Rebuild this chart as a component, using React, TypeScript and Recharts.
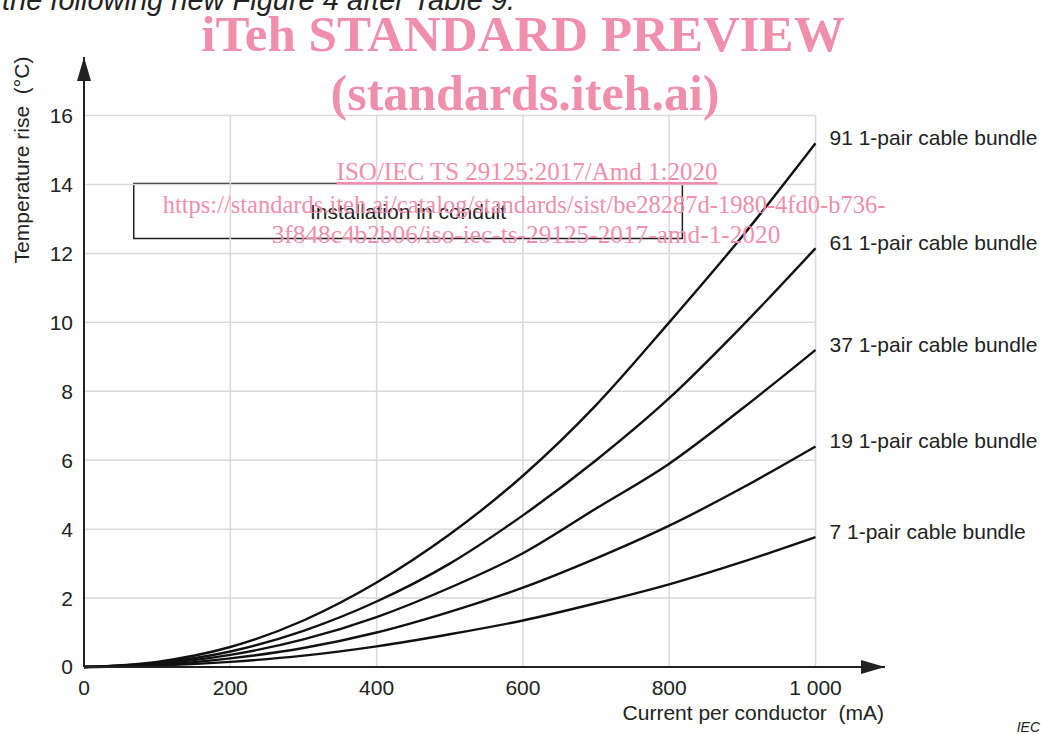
import React from 'react';
import { LineChart, Line, XAxis, YAxis, ReferenceLine, ReferenceArea, LabelList } from 'recharts';

// current per conductor (mA)
const currents = [0, 100, 200, 300, 400, 500, 600, 700, 800, 900, 1000];

// temperature rise (°C) per bundle size
const bundle91 = [0, 0.15, 0.58, 1.35, 2.45, 3.85, 5.55, 7.6, 10.0, 12.5, 15.2];
const bundle61 = [0, 0.12, 0.45, 1.05, 1.9, 3.0, 4.4, 6.0, 7.8, 9.9, 12.15];
const bundle37 = [0, 0.09, 0.35, 0.8, 1.45, 2.3, 3.3, 4.6, 5.9, 7.5, 9.2];
const bundle19 = [0, 0.06, 0.25, 0.55, 1.0, 1.6, 2.3, 3.15, 4.1, 5.2, 6.4];
const bundle7 = [0, 0.04, 0.15, 0.33, 0.6, 0.95, 1.35, 1.85, 2.4, 3.05, 3.77];

const seriesKeys = ['b91', 'b61', 'b37', 'b19', 'b7'];
const seriesValues = [bundle91, bundle61, bundle37, bundle19, bundle7];
const seriesNames = [
  '91 1-pair cable bundle',
  '61 1-pair cable bundle',
  '37 1-pair cable bundle',
  '19 1-pair cable bundle',
  '7 1-pair cable bundle',
];

const xTicks = [0, 200, 400, 600, 800, 1000];
const xTickLabels = ['0', '200', '400', '600', '800', '1 000'];
const yTicks = [0, 2, 4, 6, 8, 10, 12, 14, 16];

const data = currents.map((c, i) => {
  const row: Record<string, number> = { current: c };
  seriesKeys.forEach((k, s) => { row[k] = seriesValues[s][i]; });
  return row;
});

const FONT = '"Liberation Sans", Arial, sans-serif';
const SERIF = '"Liberation Serif", "Times New Roman", serif';
const INK = '#222';
const GRID = '#d9d9d9';
const PINK = '#ef8fac';

const lastIndex = currents.length - 1;

const endLabel = (name: string) => (props: any) => {
  const { x, y, index } = props;
  if (index !== lastIndex) return null;
  return (
    <text x={x + 14} y={y + 2} fontSize={21} fontFamily={FONT} fill={INK}>
      {name}
    </text>
  );
};

export default function App() {
  return (
    <div style={{ position: 'absolute', left: 0, top: 0, width: 1045, height: 734, background: '#fff' }}>
      <LineChart
        width={1045}
        height={734}
        data={data}
        margin={{ top: 57, right: 160, left: 24, bottom: 37 }}
      >
        <defs>
          <marker id="arrowHead" markerUnits="userSpaceOnUse" markerWidth={24} markerHeight={14}
            refX={24} refY={7} orient="auto-start-reverse">
            <path d="M0,0 L24,7 L0,14 z" fill={INK} />
          </marker>
        </defs>
        <XAxis
          type="number"
          dataKey="current"
          domain={[0, 1095]}
          ticks={xTicks}
          tickFormatter={(v) => xTickLabels[xTicks.indexOf(v)]}
          tickLine={false}
          tickMargin={7}
          height={30}
          axisLine={{ stroke: INK, strokeWidth: 2, markerEnd: 'url(#arrowHead)' }}
          tick={{ fontSize: 21, fill: INK, fontFamily: FONT }}
        />
        <YAxis
          type="number"
          domain={[0, 17.7]}
          ticks={yTicks}
          tickLine={false}
          tickMargin={5}
          width={60}
          axisLine={{ stroke: INK, strokeWidth: 2, markerStart: 'url(#arrowHead)' }}
          tick={{ fontSize: 21, fill: INK, fontFamily: FONT }}
        />
        {yTicks.slice(1).map((t) => (
          <ReferenceLine key={'h' + t} segment={[{ x: 0, y: t }, { x: 1000, y: t }]} stroke={GRID} strokeWidth={1.5} />
        ))}
        {xTicks.slice(1).map((t) => (
          <ReferenceLine key={'v' + t} segment={[{ x: t, y: 0 }, { x: t, y: 16 }]} stroke={GRID} strokeWidth={1.5} />
        ))}
        <ReferenceArea
          x1={68}
          x2={818}
          y1={12.43}
          y2={14.03}
          fill="#fff"
          fillOpacity={0}
          stroke={INK}
          strokeWidth={1.5}
          label={{ value: 'Installation in conduit', position: 'center', fontSize: 21, fill: INK, fontFamily: FONT }}
        />
        {seriesKeys.map((k, s) => (
          <Line
            key={k}
            type="monotone"
            dataKey={k}
            stroke="#111"
            strokeWidth={2.4}
            dot={false}
            isAnimationActive={false}
          >
            <LabelList dataKey={k} content={endLabel(seriesNames[s])} />
          </Line>
        ))}
      </LineChart>
      <svg width={1045} height={734} style={{ position: 'absolute', left: 0, top: 0, pointerEvents: 'none' }}>
        <text x={2} y={10} fontSize={29} fontStyle="italic" fontFamily={FONT} fill={INK}>
          the following new Figure 4 after Table 9.
        </text>
        <text transform="translate(29,160) rotate(-90)" textAnchor="middle" fontSize={21} fontFamily={FONT} fill={INK}
          style={{ whiteSpace: 'pre' }}>
          {'Temperature rise  (°C)'}
        </text>
        <text x={884} y={720} textAnchor="end" fontSize={21} fontFamily={FONT} fill={INK} style={{ whiteSpace: 'pre' }}>
          {'Current per conductor  (mA)'}
        </text>
        <text x={1040} y={732} textAnchor="end" fontSize={14} fontStyle="italic" fontFamily={FONT} fill={INK}>
          IEC
        </text>
        <g fill={PINK} fontFamily={SERIF} textAnchor="middle">
          <text x={523} y={51} fontSize={51} fontWeight="bold">iTeh STANDARD PREVIEW</text>
          <text x={525} y={110} fontSize={50} fontWeight="bold">(standards.iteh.ai)</text>
          <text x={527} y={180} fontSize={25} textDecoration="underline">ISO/IEC TS 29125:2017/Amd 1:2020</text>
          <text x={524} y={213} fontSize={24.5}>https://standards.iteh.ai/catalog/standards/sist/be28287d-1980-4fd0-b736-</text>
          <text x={526} y={243} fontSize={25.3}>3f848c4b2b06/iso-iec-ts-29125-2017-amd-1-2020</text>
        </g>
      </svg>
    </div>
  );
}
